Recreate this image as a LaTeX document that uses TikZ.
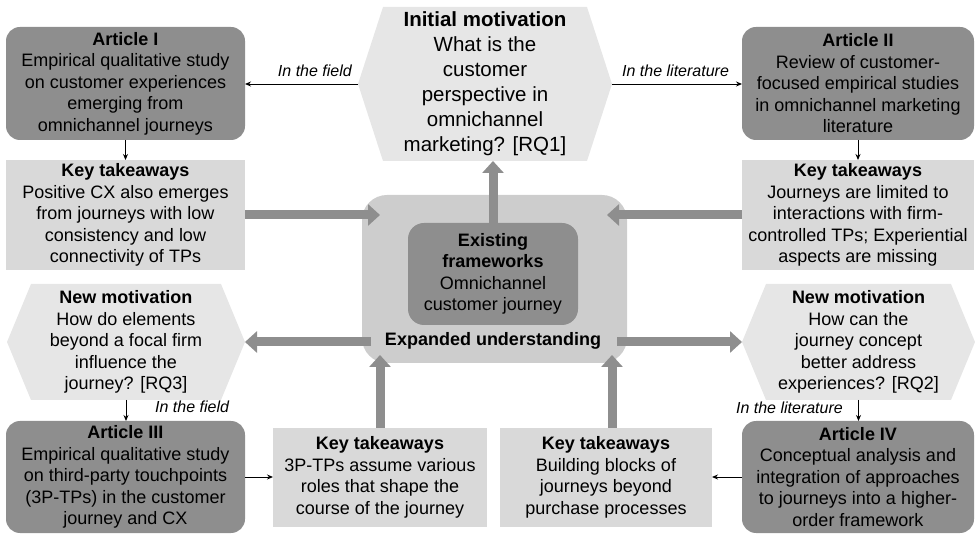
\documentclass[tikz,border=0pt]{standalone}
\usepackage{fontspec}
\setmainfont{Liberation Sans}
\usetikzlibrary{arrows.meta,calc,backgrounds}
\definecolor{darkbox}{HTML}{8E8E8E}
\definecolor{ktfill}{HTML}{D9D9D9}
\definecolor{hexfill}{HTML}{E6E6E6}
\definecolor{hubfill}{HTML}{CDCDCD}
\definecolor{arrowgray}{HTML}{8E8E8E}
\begin{document}
\begin{tikzpicture}[x=1pt,y=-1pt,
  txt/.style={inner sep=0pt,outer sep=0pt,align=center,font=\fontsize{18}{21.5}\selectfont},
  article/.style={txt,fill=darkbox,rounded corners=14pt},
  takeaway/.style={txt,fill=ktfill},
  motive/.style={txt},
  hub/.style={txt,fill=hubfill,rounded corners=25pt},
  core/.style={txt,fill=darkbox,rounded corners=16pt},
  link/.style={draw=black,line width=0.9pt,-{Stealth[length=6pt,width=5pt]}},
  flow/.style={draw=arrowgray,line width=9pt,-{Triangle[length=12pt,width=21pt]}},
  route/.style={inner sep=0pt,font=\fontsize{16}{18}\selectfont\itshape}
]
\useasboundingbox (0,0) rectangle (975,534);

% articles
\node[article,minimum width=239pt,minimum height=113pt] (art1) at (125.5,83.5)
  {\textbf{Article I}\\Empirical qualitative study\\on customer experiences\\emerging from\\omnichannel journeys};
\node[article,minimum width=232pt,minimum height=113pt] (art2) at (858,83.5)
  {\textbf{Article II}\\Review of customer-\\focused empirical studies\\in omnichannel marketing\\literature};
\node[article,minimum width=239pt,minimum height=112pt] (art3) at (125.5,477)
  {\textbf{Article III}\\Empirical qualitative study\\on third-party touchpoints\\(3P-TPs) in the customer\\journey and CX};
\node[article,minimum width=232pt,minimum height=112pt] (art4) at (858,477)
  {\textbf{Article IV}\\Conceptual analysis and\\integration of approaches\\to journeys into a higher-\\order framework};

% key takeaways
\node[takeaway,minimum width=239pt,minimum height=110pt] (kt1) at (125.5,215)
  {\textbf{Key takeaways}\\Positive CX also emerges\\from journeys with low\\consistency and low\\connectivity of TPs};
\node[takeaway,minimum width=232pt,minimum height=110pt] (kt2) at (858,215)
  {\textbf{Key takeaways}\\Journeys are limited to\\interactions with firm-\\controlled TPs; Experiential\\aspects are missing};
\node[takeaway,minimum width=214pt,minimum height=99pt] (kt3) at (380,477.5)
  {\textbf{Key takeaways}\\3P-TPs assume various\\roles that shape the\\course of the journey};
\node[takeaway,minimum width=212pt,minimum height=99pt] (kt4) at (606,477.5)
  {\textbf{Key takeaways}\\Building blocks of\\journeys beyond\\purchase processes};

% motivations
\node[motive,minimum width=254pt,minimum height=154pt,font=\fontsize{20.5}{25}\selectfont] (hex0) at (485,84)
  {\textbf{Initial motivation}\\What is the\\customer\\perspective in\\omnichannel\\marketing? [RQ1]};
\node[motive,minimum width=238pt,minimum height=116pt] (hex3) at (126,342)
  {\textbf{New motivation}\\How do elements\\beyond a focal firm\\influence the\\journey? [RQ3]};
\node[motive,minimum width=233pt,minimum height=116pt] (hex2) at (858.5,342)
  {\textbf{New motivation}\\How can the\\journey concept\\better address\\experiences? [RQ2]};

\begin{scope}[on background layer]
  \foreach \h/\s in {hex0/25,hex3/24,hex2/24}
    \fill[hexfill] (\h.west) -- ([xshift=\s pt]\h.north west) -- ([xshift=-\s pt]\h.north east)
      -- (\h.east) -- ([xshift=-\s pt]\h.south east) -- ([xshift=\s pt]\h.south west) -- cycle;
\end{scope}

% central frame
\node[hub,minimum width=265pt,minimum height=168pt] (hub) at (494.5,279) {};
\node[core,minimum width=170pt,minimum height=102pt] (core) at (493,274)
  {\textbf{Existing}\\\textbf{frameworks}\\Omnichannel\\customer journey};
\node[txt,font=\fontsize{18}{21.5}\selectfont\bfseries] (expanded) at (493,341) {Expanded understanding};

% thick flows
\draw[flow] (core.north) -- (core.north |- hex0.south);
\draw[flow] (kt1.east) -- ($(hub.west |- kt1.east)+(18,0)$);
\draw[flow] (kt2.west) -- ($(hub.east |- kt2.west)+(-20,0)$);
\draw[flow] ($(hub.west |- hex3.east)+(9,0)$) -- (hex3.east);
\draw[flow] ($(hub.east |- hex2.west)+(-10,0)$) -- (hex2.west);
\draw[flow] (kt3.north) -- ($(kt3.north |- hub.south)+(0,-8)$);
\draw[flow] ($(kt4.north)+(6,0)$) -- ($(kt4.north |- hub.south)+(6,-8)$);

% thin links
\draw[link] (hex0.west) -- (hex0.west -| art1.east);
\draw[link] (hex0.east) -- (hex0.east -| art2.west);
\draw[link] (art1.south) -- (kt1.north);
\draw[link] (art2.south) -- (kt2.north);
\draw[link] (hex3.south) -- (hex3.south |- art3.north);
\draw[link] (hex2.south) -- (hex2.south |- art4.north);
\draw[link] (art3.east) -- (art3.east -| kt3.west);
\draw[link] (art4.west) -- (art4.west -| kt4.east);

% route labels
\node[route,anchor=base east] (fieldA) at ($(hex0.west)+(-6,-7)$) {In the field};
\node[route,anchor=base west] (litA) at ($(hex0.east)+(10,-7)$) {In the literature};
\node[route,anchor=base west] (fieldB) at (155,413) {In the field};
\node[route,anchor=base east] (litB) at (843,414) {In the literature};
\end{tikzpicture}
\end{document}
